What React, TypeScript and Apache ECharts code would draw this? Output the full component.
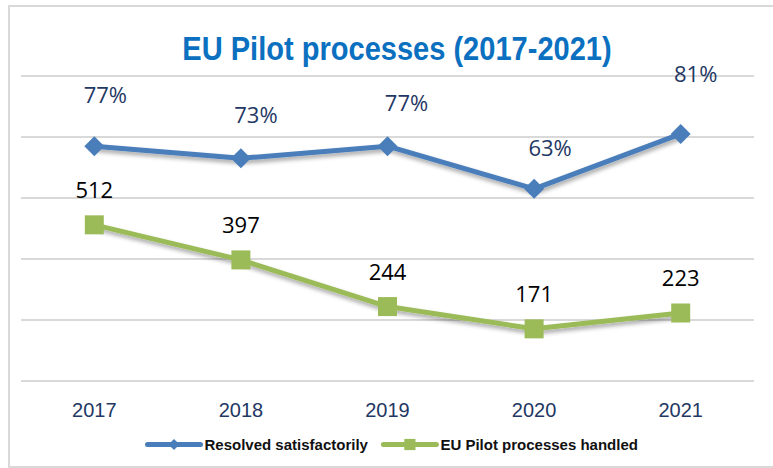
import React, { useEffect, useRef } from "react";
import * as echarts from "echarts";

const titleText = "EU Pilot processes (2017-2021)";
const years = ["2017", "2018", "2019", "2020", "2021"];
const resolvedShare = [0.77, 0.73, 0.77, 0.63, 0.81];
const processesHandled = [512, 397, 244, 171, 223];
const resolvedLabelOffsets = [
  [11, -52],
  [15, -44],
  [19, -44],
  [16, -42],
  [15, -61],
];
const sans = "'Liberation Sans', Arial, sans-serif";

export default function App() {
  const ref = useRef<HTMLDivElement>(null);
  useEffect(() => {
    document.body.style.margin = "0";
    const chart = echarts.init(ref.current!, null, { renderer: "svg" });
    chart.setOption({
      animation: false,
      backgroundColor: "#ffffff",
      graphic: [
        {
          type: "rect",
          shape: { x: 9, y: 6, width: 780, height: 461 },
          style: { fill: "none", stroke: "#d9d9d9", lineWidth: 2 },
          silent: true,
        },
        {
          type: "text",
          x: 397,
          y: 49,
          scaleX: 0.88,
          style: {
            text: titleText,
            fontFamily: sans,
            fontWeight: "bold",
            fontSize: 33,
            fill: "#0B70C0",
            align: "center",
            verticalAlign: "middle",
          },
          silent: true,
        },
      ],
      legend: {
        bottom: 11,
        left: 140,
        itemWidth: 53,
        itemHeight: 14,
        itemGap: 13,
        lineStyle: { width: 5, cap: "round", shadowBlur: 0, shadowOffsetX: 0, shadowOffsetY: 0 },
        textStyle: {
          fontFamily: sans,
          fontWeight: "bold",
          fontSize: 15,
          color: "#111111",
          padding: [0, 0, 0, -1],
        },
      },
      grid: { left: 21, right: 19, top: 76, bottom: 87 },
      xAxis: {
        type: "category",
        data: years,
        axisLine: { show: false },
        axisTick: { show: false },
        axisLabel: {
          fontFamily: sans,
          fontSize: 20,
          color: "#1F3864",
          margin: 19,
        },
      },
      yAxis: [
        {
          type: "value",
          min: 0,
          max: 1000,
          interval: 200,
          axisLabel: { show: false },
          axisLine: { show: false },
          axisTick: { show: false },
          splitLine: { show: true, lineStyle: { color: "#d9d9d9", width: 2 } },
        },
        {
          type: "value",
          min: 0,
          max: 1,
          interval: 0.2,
          axisLabel: { show: false },
          axisLine: { show: false },
          axisTick: { show: false },
          splitLine: { show: false },
        },
      ],
      series: [
        {
          name: "Resolved satisfactorily",
          type: "line",
          yAxisIndex: 1,
          data: resolvedShare.map((v, i) => ({
            value: v,
            label: { offset: resolvedLabelOffsets[i] },
          })),
          symbol: "diamond",
          symbolSize: 20,
          itemStyle: { color: "#4A7EBB" },
          lineStyle: {
            color: "#4A7EBB",
            width: 5,
            shadowColor: "rgba(0,0,0,0.35)",
            shadowBlur: 4,
            shadowOffsetY: 3,
            shadowOffsetX: 1,
          },
          label: {
            show: true,
            position: "inside",
            fontFamily: "'Open Sans', sans-serif",
            fontSize: 22,
            color: "#1F3864",
            formatter: (p: any) => Math.round(p.value * 100) + "%",
          },
          z: 3,
        },
        {
          name: "EU Pilot processes handled",
          type: "line",
          yAxisIndex: 0,
          data: processesHandled,
          symbol: "rect",
          symbolSize: 19,
          itemStyle: { color: "#9BBB59" },
          lineStyle: {
            color: "#9BBB59",
            width: 5,
            shadowColor: "rgba(0,0,0,0.35)",
            shadowBlur: 4,
            shadowOffsetY: 3,
            shadowOffsetX: 1,
          },
          label: {
            show: true,
            position: "inside",
            offset: [0, -36],
            fontFamily: "'Open Sans', sans-serif",
            fontSize: 22,
            color: "#000000",
          },
          z: 2,
        },
      ],
    });
    return () => chart.dispose();
  }, []);
  return (
    <div
      ref={ref}
      style={{ position: "absolute", left: 0, top: 0, width: 773, height: 468 }}
    />
  );
}
